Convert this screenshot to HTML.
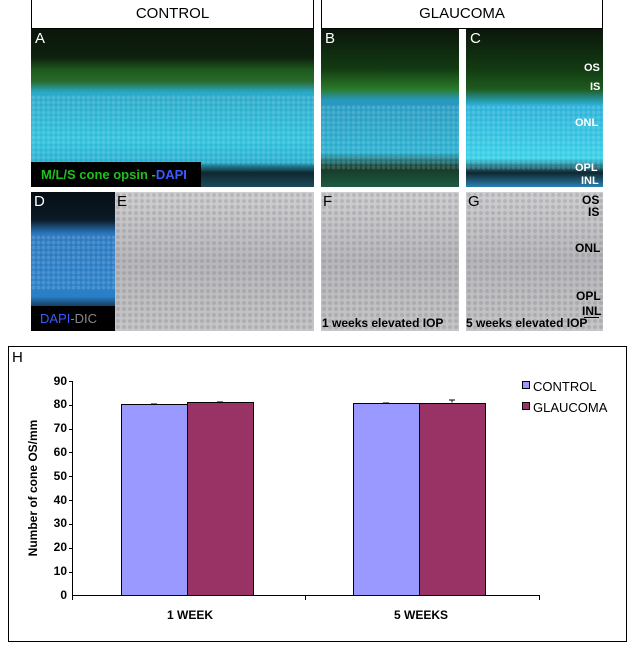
<!DOCTYPE html>
<html><head><style>
body{margin:0;width:633px;height:646px;background:#fff;position:relative;overflow:hidden;font-family:"Liberation Sans",Arial,sans-serif}
.a{position:absolute}
.hdr{border:1px solid #000;border-top:none;background:#fff;font-size:15px;text-align:center;line-height:28px;box-sizing:border-box}
.lbl{font-size:15px;color:#fff}
.dots{background-image:radial-gradient(circle,rgba(255,255,255,.16) 1.5px,transparent 2.5px);background-size:5px 5px}
.dic{background:#c4c4c6;background-image:radial-gradient(circle,rgba(90,90,100,.22) 1.5px,transparent 2.5px),linear-gradient(180deg,#cfcfd2,#b8b8bc 50%,#c6c6c8);background-size:6px 6px,100% 100%}
.bl{font-size:12px;font-weight:bold;color:#000}
.wl{font-size:11px;font-weight:bold;color:#fff}
</style></head><body>
<div class="a hdr" style="left:31px;top:0;width:283px;height:29px">CONTROL</div>
<div class="a hdr" style="left:321px;top:0;width:282px;height:29px">GLAUCOMA</div>

<div class="a" style="left:31px;top:29px;width:283px;height:158px;background:linear-gradient(180deg,#0b160b 0%,#0e200e 18%,#1e5a1e 26%,#2a6a2a 33%,#2aa8c8 40%,#2ec0dc 70%,#28b0d0 84%,#102830 91%,#1a4a5a 100%)"></div>
<div class="a" style="left:321px;top:29px;width:138px;height:158px;background:linear-gradient(180deg,#0b160b 0%,#123a12 25%,#2a7a2a 38%,#2898c0 45%,#2ab0d0 78%,#163a2a 88%,#1d5a40 100%)"></div>
<div class="a" style="left:466px;top:29px;width:137px;height:158px;background:linear-gradient(180deg,#0b160b 0%,#123a12 25%,#1e5a1e 38%,#2ab0d8 48%,#38d0e8 82%,#102830 91%,#2a80b0 100%)"></div>
<div class="a dots" style="left:31px;top:95px;width:283px;height:70px"></div>
<div class="a dots" style="left:321px;top:105px;width:138px;height:65px"></div>
<div class="a dots" style="left:466px;top:105px;width:137px;height:65px"></div>
<div class="a lbl" style="left:35px;top:30px">A</div>
<div class="a lbl" style="left:325px;top:30px">B</div>
<div class="a lbl" style="left:470px;top:30px">C</div>
<div class="a" style="left:31px;top:162px;width:170px;height:25px;background:#000"></div>
<div class="a" style="left:41px;top:167px;font-size:13px;font-weight:bold;color:#1ec01e">M/L/S cone opsin -<span style="color:#3a5aff">DAPI</span></div>
<div class="a wl" style="left:584px;top:62px">OS</div>
<div class="a wl" style="left:590px;top:81px">IS</div>
<div class="a wl" style="left:575px;top:117px">ONL</div>
<div class="a wl" style="left:575px;top:162px">OPL</div>
<div class="a wl" style="left:581px;top:175px">INL</div>

<div class="a" style="left:31px;top:192px;width:84px;height:139px;background:linear-gradient(180deg,#050d14 0%,#0a1a26 20%,#2a78c0 30%,#2a80c8 75%,#0a1a26 86%,#000 100%)"></div>
<div class="a dots" style="left:31px;top:235px;width:84px;height:55px"></div>
<div class="a" style="left:31px;top:306px;width:84px;height:25px;background:#000"></div>
<div class="a" style="left:40px;top:311px;font-size:13px;color:#888"><span style="color:#3a5aff">DAPI</span>-DIC</div>
<div class="a lbl" style="left:34px;top:193px">D</div>
<div class="a dic" style="left:115px;top:192px;width:199px;height:139px"></div>
<div class="a dic" style="left:321px;top:192px;width:138px;height:139px"></div>
<div class="a dic" style="left:466px;top:192px;width:137px;height:139px"></div>
<div class="a" style="left:117px;top:193px;font-size:15px">E</div>
<div class="a" style="left:323px;top:193px;font-size:15px">F</div>
<div class="a" style="left:468px;top:193px;font-size:15px">G</div>
<div class="a bl" style="left:322px;top:316px">1 weeks elevated IOP</div>
<div class="a bl" style="left:466px;top:316px">5 weeks elevated IOP</div>
<div class="a bl" style="left:582px;top:193px">OS</div>
<div class="a bl" style="left:588px;top:205px">IS</div>
<div class="a bl" style="left:575px;top:241px">ONL</div>
<div class="a bl" style="left:576px;top:289px">OPL</div>
<div class="a bl" style="left:582px;top:304px">INL</div>
<div class="a" style="left:584px;top:317px;width:15px;height:1px;background:#000"></div>

<svg class="a" style="left:0;top:0" width="633" height="646">
<rect x="8.5" y="346.5" width="618" height="295" fill="none" stroke="#000"/>
<text x="12" y="362" font-size="15" font-family="Liberation Sans">H</text>
<g font-family="Liberation Sans" font-size="12" font-weight="bold" text-anchor="end">
<text x="67" y="599">0</text><text x="67" y="575">10</text><text x="67" y="551">20</text><text x="67" y="527">30</text><text x="67" y="504">40</text><text x="67" y="480">50</text><text x="67" y="456">60</text><text x="67" y="432">70</text><text x="67" y="408">80</text><text x="67" y="385">90</text>
</g>
<path d="M72.5 381V595.5H540M69 381.5h4M69 405.5h4M69 429.5h4M69 452.5h4M69 476.5h4M69 500.5h4M69 524.5h4M69 548.5h4M69 572.5h4M305.5 595v5M539.5 595v5M72.5 595v5" stroke="#000" fill="none"/>
<rect x="121.5" y="404.5" width="66" height="191" fill="#9999ff" stroke="#000"/>
<rect x="187.5" y="402.5" width="66" height="193" fill="#993366" stroke="#000"/>
<rect x="353.5" y="403.5" width="66" height="192" fill="#9999ff" stroke="#000"/>
<rect x="419.5" y="403.5" width="66" height="192" fill="#993366" stroke="#000"/>
<path d="M151 404h6M217 402h6M383 403h6M452 402.5v-2.5M449 400h6" stroke="#000"/>
<text transform="translate(37,488) rotate(-90)" text-anchor="middle" font-family="Liberation Sans" font-size="12" font-weight="bold">Number of cone OS/mm</text>
<g font-family="Liberation Sans" font-size="12" font-weight="bold" text-anchor="middle">
<text x="190" y="619">1 WEEK</text><text x="421" y="619">5 WEEKS</text></g>
<rect x="522.5" y="381.5" width="7" height="7" fill="#9999ff" stroke="#000"/>
<rect x="522.5" y="402.5" width="7" height="7" fill="#993366" stroke="#000"/>
<g font-family="Liberation Sans" font-size="13"><text x="533" y="391">CONTROL</text><text x="533" y="412">GLAUCOMA</text></g>
</svg>
</body></html>
